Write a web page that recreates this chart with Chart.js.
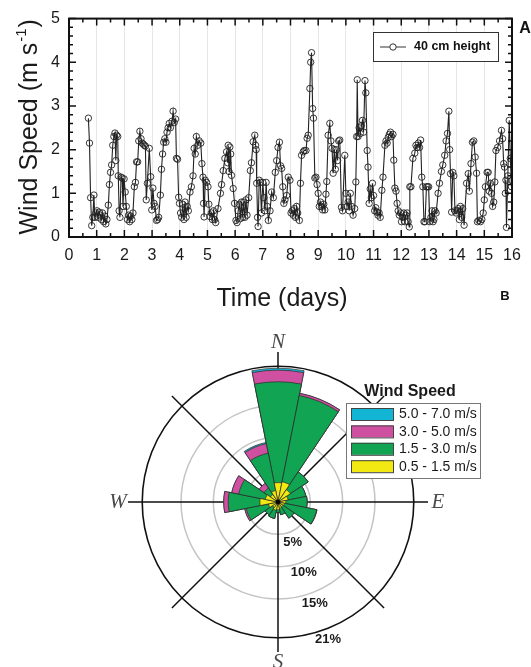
<!DOCTYPE html>
<html>
<head>
<meta charset="utf-8">
<script src="https://cdn.jsdelivr.net/npm/chart.js@4.4.1/dist/chart.umd.min.js"></script>
<style>
  html, body { margin: 0; padding: 0; background: #fff; }
  #wrap { position: relative; width: 531px; height: 667px; overflow: hidden; }
  canvas { position: absolute; left: 0; }
</style>
</head>
<body>
<div id="wrap">
  <canvas id="speedChart" width="531" height="320" style="top:0"></canvas>
  <canvas id="roseChart" width="531" height="347" style="top:320px"></canvas>
</div>
<script>
// ---- panel A: wind speed at 40 cm ----
const timeDays = [
  0.70,0.74,0.78,0.82,0.86,0.90,0.93,0.97,1.01,1.05,1.09,1.13,1.17,1.21,1.25,1.29,1.33,1.37,1.42,1.46,
  1.50,1.54,1.58,1.62,1.66,1.69,1.72,1.76,1.78,1.81,1.84,1.88,1.92,1.95,1.99,2.03,2.07,2.11,2.15,2.19,
  2.23,2.27,2.31,2.36,2.40,2.44,2.48,2.52,2.56,2.60,2.64,2.68,2.72,2.76,2.79,2.83,2.90,2.95,2.99,3.03,
  3.07,3.11,3.16,3.20,3.24,3.30,3.34,3.38,3.42,3.46,3.50,3.54,3.58,3.62,3.66,3.72,3.76,3.80,3.85,3.88,
  3.92,3.96,3.99,4.03,4.07,4.11,4.15,4.19,4.23,4.27,4.31,4.37,4.42,4.48,4.52,4.56,4.60,4.65,4.70,4.76,
  4.80,4.84,4.86,4.88,4.92,4.97,5.02,5.05,5.09,5.14,5.18,5.22,5.26,5.30,5.38,5.47,5.51,5.57,5.63,5.69,
  5.73,5.75,5.78,5.81,5.84,5.87,5.93,5.98,6.03,6.07,6.11,6.15,6.19,6.23,6.27,6.31,6.35,6.39,6.43,6.49,
  6.55,6.59,6.65,6.71,6.74,6.76,6.78,6.81,6.83,6.87,6.91,6.95,7.00,7.04,7.08,7.12,7.16,7.20,7.26,7.32,
  7.38,7.45,7.50,7.55,7.60,7.64,7.68,7.72,7.76,7.80,7.86,7.92,7.98,8.02,8.06,8.10,8.14,8.18,8.22,8.26,
  8.32,8.36,8.40,8.46,8.50,8.56,8.60,8.64,8.70,8.73,8.76,8.80,8.83,8.88,8.92,8.96,9.00,9.04,9.08,9.12,
  9.16,9.20,9.24,9.28,9.31,9.36,9.42,9.46,9.50,9.54,9.58,9.62,9.66,9.70,9.74,9.78,9.84,9.88,9.96,10.00,
  10.04,10.08,10.12,10.16,10.20,10.26,10.32,10.36,10.39,10.41,10.44,10.48,10.52,10.56,10.60,10.64,10.69,10.72,10.77,10.80,
  10.84,10.88,10.92,10.96,11.00,11.04,11.08,11.12,11.16,11.20,11.24,11.30,11.34,11.41,11.45,11.49,11.53,11.57,11.61,11.65,
  11.70,11.73,11.77,11.81,11.85,11.89,11.93,11.97,12.01,12.05,12.09,12.13,12.17,12.21,12.25,12.29,12.31,12.35,12.42,12.49,
  12.53,12.57,12.62,12.66,12.70,12.74,12.78,12.82,12.86,12.91,12.95,12.99,13.03,13.07,13.11,13.15,13.18,13.22,13.26,13.33,
  13.38,13.45,13.50,13.57,13.62,13.67,13.72,13.75,13.78,13.82,13.86,13.90,13.94,13.98,14.02,14.06,14.10,14.14,14.18,14.22,
  14.27,14.36,14.42,14.46,14.52,14.57,14.62,14.67,14.72,14.75,14.80,14.86,14.91,14.96,15.00,15.04,15.10,15.14,15.18,15.22,
  15.26,15.30,15.34,15.38,15.42,15.48,15.55,15.62,15.66,15.70,15.73,15.76,15.78,15.80,15.85,15.90,15.94,15.98,16.00
];
const speed40cm = [
  2.72,2.15,0.90,0.26,0.45,0.96,0.45,0.55,0.60,0.45,0.57,0.50,0.40,0.55,0.35,0.48,0.30,0.40,0.73,1.20,
  1.48,1.65,2.10,2.30,2.38,1.75,2.33,2.30,1.40,0.60,0.45,1.37,1.35,0.70,1.33,1.03,0.70,0.40,0.50,0.35,
  0.48,0.40,0.55,1.15,1.25,1.72,1.72,2.20,2.42,2.25,2.15,2.13,2.10,2.08,0.85,1.23,2.03,1.38,0.62,1.12,
  0.77,0.70,0.38,0.40,0.45,0.96,1.55,1.90,2.17,2.25,2.17,2.40,2.50,2.60,2.50,2.65,2.88,2.62,2.70,1.80,
  1.78,0.91,0.77,0.55,0.45,0.75,0.40,0.80,0.45,0.70,0.60,1.03,1.15,1.40,2.03,1.90,2.30,2.10,2.20,2.15,
  1.68,1.37,0.77,0.46,1.30,1.25,1.15,0.75,0.47,0.55,0.40,0.60,0.40,0.33,0.65,1.00,1.20,1.52,1.80,1.95,
  1.70,2.10,1.50,2.06,1.90,1.41,1.11,0.77,0.38,0.33,0.60,0.75,0.42,0.80,0.45,0.80,0.45,0.85,0.50,0.90,
  1.52,1.70,2.18,2.33,2.10,2.00,1.23,0.45,0.24,1.30,1.25,0.55,1.25,0.90,0.60,1.25,0.70,0.38,0.60,1.03,
  0.90,1.48,1.75,2.05,2.17,1.63,1.57,1.15,0.77,0.85,0.95,1.37,1.30,0.55,0.60,0.50,0.65,0.45,0.70,0.55,
  0.38,1.23,1.87,1.95,1.98,1.98,2.26,2.33,3.40,4.00,4.22,2.94,2.72,1.35,1.37,1.20,1.00,0.70,0.80,0.70,
  0.62,0.75,0.62,0.98,1.27,2.33,2.60,2.20,2.03,1.46,2.00,1.55,2.00,1.75,2.20,2.22,0.68,0.60,1.87,1.00,
  0.70,0.80,0.60,1.00,0.70,0.50,0.65,1.26,2.30,3.60,2.30,2.50,2.37,2.55,2.67,2.40,3.58,3.30,1.98,1.60,
  0.77,1.10,0.90,1.23,0.95,0.60,0.67,0.57,0.50,0.55,0.45,1.07,1.37,2.10,2.20,2.15,2.28,2.35,2.40,2.30,
  2.35,1.76,1.12,1.05,0.77,0.60,0.50,0.55,0.35,0.45,0.55,0.35,0.50,0.55,0.35,0.23,1.15,1.15,1.80,1.92,
  2.10,2.05,2.15,2.05,2.22,1.37,1.15,0.35,0.35,1.15,1.15,1.15,0.35,0.45,0.60,0.35,0.40,0.60,0.55,1.00,
  1.23,1.50,1.65,1.87,2.20,2.37,2.88,2.00,1.45,0.57,1.48,1.40,0.60,0.55,0.60,0.65,0.40,0.70,0.45,0.65,
  0.27,1.23,1.45,1.05,1.68,2.17,2.20,1.83,1.46,0.35,0.38,0.35,0.40,0.55,0.85,1.15,1.48,1.48,1.05,1.23,
  1.00,0.70,0.80,1.26,1.98,2.05,2.20,2.44,2.25,1.68,1.60,1.00,1.30,0.22,1.40,2.67,1.80,1.15,1.30
];
const xTicksDays = [0, 16];
const yTicksSpeed = [0, 5];

// ---- panel B: wind rose, percent of time per direction and speed class ----
const directions = ['N','NNE','NE','ENE','E','ESE','SE','SSE','S','SSW','SW','WSW','W','WNW','NW','NNW'];
const pct05to15 = [3.0, 3.2, 2.3, 1.6, 1.2, 1.0, 0.9, 1.0, 1.2, 1.3, 1.0, 1.5, 2.8, 2.0, 1.4, 1.8];
const pct15to30 = [15.6, 13.6, 3.3, 2.8, 3.3, 5.1, 2.1, 1.0, 0.4, 1.3, 1.4, 3.5, 4.9, 4.2, 1.2, 5.9];
const pct30to50 = [1.8, 0.35, 0, 0, 0, 0.05, 0, 0, 0, 0, 0, 0.25, 0.7, 1.1, 0.9, 1.5];
const pct50to70 = [0.3, 0, 0, 0, 0, 0, 0, 0, 0, 0, 0, 0, 0, 0, 0, 0.2];
const ringValues = [5, 10, 15, 21];
const speedClasses = ['0.5 - 1.5 m/s', '1.5 - 3.0 m/s', '3.0 - 5.0 m/s', '5.0 - 7.0 m/s'];
const classColors = ['#f2e812', '#11a452', '#cf4fa0', '#12b5d3'];

const SANS = "'Liberation Sans', Arial, Helvetica, sans-serif";

// --------------------------------------------------------------------------
const speedPoints = timeDays.map((d, i) => ({ x: d, y: speed40cm[i] }));

const panelA = {
  id: 'panelA',
  afterDraw(chart) {
    const { ctx, chartArea: a, scales: { x, y } } = chart;
    ctx.save();
    ctx.strokeStyle = '#111';
    ctx.lineWidth = 2;
    ctx.strokeRect(a.left, a.top, a.right - a.left, a.bottom - a.top);

    // inward ticks on all four sides
    ctx.lineWidth = 1.5;
    ctx.beginPath();
    for (let k = 0; k <= xTicksDays[1] * 2; k++) {
      const px = x.getPixelForValue(k / 2);
      const len = k % 2 === 0 ? 7 : 4;
      ctx.moveTo(px, a.bottom); ctx.lineTo(px, a.bottom - len);
      ctx.moveTo(px, a.top); ctx.lineTo(px, a.top + len);
    }
    for (let k = 0; k <= yTicksSpeed[1] * 5; k++) {
      const py = y.getPixelForValue(k / 5);
      const len = k % 5 === 0 ? 7 : 4;
      ctx.moveTo(a.left, py); ctx.lineTo(a.left + len, py);
      ctx.moveTo(a.right, py); ctx.lineTo(a.right - len, py);
    }
    ctx.stroke();

    // axis titles
    ctx.fillStyle = '#1a1a1a';
    ctx.font = '25px ' + SANS;
    ctx.textAlign = 'center';
    ctx.textBaseline = 'alphabetic';
    ctx.fillText('Time (days)', 282, 306);

    ctx.save();
    ctx.translate(37, (a.top + a.bottom) / 2);
    ctx.rotate(-Math.PI / 2);
    ctx.textAlign = 'left';
    const main = 'Wind Speed (m s', sup = '-1', close = ')';
    ctx.font = '25px ' + SANS;
    const w1 = ctx.measureText(main).width, w3 = ctx.measureText(close).width;
    ctx.font = '15px ' + SANS;
    const w2 = ctx.measureText(sup).width;
    let sx = -(w1 + w2 + w3) / 2;
    ctx.font = '25px ' + SANS;
    ctx.fillText(main, sx, 0);
    ctx.font = '15px ' + SANS;
    ctx.fillText(sup, sx + w1 + 1, -11);
    ctx.font = '25px ' + SANS;
    ctx.fillText(close, sx + w1 + w2 + 2, 0);
    ctx.restore();

    // legend box
    ctx.fillStyle = '#fff';
    ctx.fillRect(373, 32, 125, 29);
    ctx.strokeStyle = '#333';
    ctx.lineWidth = 1;
    ctx.strokeRect(373.5, 32.5, 125, 29);
    ctx.beginPath();
    ctx.moveTo(380, 47); ctx.lineTo(406, 47);
    ctx.stroke();
    ctx.beginPath();
    ctx.arc(393, 47, 3.2, 0, Math.PI * 2);
    ctx.fillStyle = '#fff';
    ctx.fill();
    ctx.stroke();
    ctx.fillStyle = '#111';
    ctx.font = 'bold 12.5px ' + SANS;
    ctx.textAlign = 'left';
    ctx.textBaseline = 'middle';
    ctx.fillText('40 cm height', 414, 47);

    // panel letters
    ctx.font = 'bold 16px ' + SANS;
    ctx.textAlign = 'center';
    ctx.fillText('A', 525, 29);
    ctx.font = 'bold 13px ' + SANS;
    ctx.fillText('B', 505, 296);
    ctx.restore();
  }
};

new Chart(document.getElementById('speedChart'), {
  type: 'line',
  data: {
    datasets: [{
      label: '40 cm height',
      data: speedPoints,
      borderColor: '#222',
      borderWidth: 1.1,
      tension: 0,
      pointRadius: 3.2,
      pointBorderWidth: 0.9,
      pointBorderColor: '#222',
      pointBackgroundColor: 'rgba(255,255,255,0)'
    }]
  },
  options: {
    responsive: false,
    devicePixelRatio: 1,
    animation: false,
    layout: { padding: { left: 0, right: 19, top: 17, bottom: 0 } },
    plugins: { legend: { display: false }, tooltip: { enabled: false } },
    scales: {
      x: {
        type: 'linear',
        min: xTicksDays[0], max: xTicksDays[1],
        afterFit: s => { s.height = 83; },
        ticks: { stepSize: 1, padding: 9, color: '#1a1a1a', font: { size: 16, family: SANS } },
        grid: {
          drawTicks: false,
          color: c => (c.tick.value === xTicksDays[0] || c.tick.value === xTicksDays[1]) ? 'rgba(0,0,0,0)' : '#e6e6e6'
        },
        border: { display: false }
      },
      y: {
        min: yTicksSpeed[0], max: yTicksSpeed[1],
        afterFit: s => { s.width = 69; },
        ticks: { stepSize: 1, padding: 9, color: '#1a1a1a', font: { size: 16, family: SANS } },
        grid: { display: false, drawTicks: false },
        border: { display: false }
      }
    }
  },
  plugins: [panelA]
});

// --------------------------------------------------------------------------
// stacked rose: each class drawn as cumulative radius, smallest class on top
const cumulative = [];
[pct05to15, pct15to30, pct30to50, pct50to70].forEach((arr, k) => {
  cumulative.push(arr.map((v, i) => +(v + (k ? cumulative[k - 1][i] : 0)).toFixed(2)));
});

const roseDecor = {
  id: 'roseDecor',
  beforeDatasetsDraw(chart) {
    const { ctx } = chart;
    const r = chart.scales.r;
    const len = r.getDistanceFromCenterForValue(r.max);
    ctx.save();
    ctx.strokeStyle = '#111';
    ctx.lineWidth = 1.5;
    ctx.beginPath();
    for (let k = 0; k < 8; k++) {
      const a = k * Math.PI / 4;
      ctx.moveTo(r.xCenter, r.yCenter);
      ctx.lineTo(r.xCenter + len * Math.sin(a), r.yCenter - len * Math.cos(a));
    }
    ctx.stroke();
    ctx.restore();
  },
  afterDraw(chart) {
    const { ctx } = chart;
    const r = chart.scales.r;
    const cx = r.xCenter, cy = r.yCenter;
    ctx.save();
    // calm dot
    ctx.fillStyle = '#000';
    ctx.beginPath();
    ctx.arc(cx, cy, 2.3, 0, Math.PI * 2);
    ctx.fill();

    // compass letters
    ctx.fillStyle = '#4a4a4a';
    ctx.font = "italic 21px 'Liberation Serif', 'DejaVu Serif', serif";
    ctx.textAlign = 'center';
    ctx.textBaseline = 'middle';
    [['N', 0], ['E', 90], ['S', 180], ['W', 270]].forEach(([t, deg]) => {
      const a = deg * Math.PI / 180;
      ctx.fillText(t, cx + 160 * Math.sin(a), cy - 160 * Math.cos(a));
    });

    // ring labels along 160 deg
    ctx.fillStyle = '#1a1a1a';
    ctx.font = 'bold 13px ' + SANS;
    const a = 160 * Math.PI / 180;
    ringValues.forEach(v => {
      const d = r.getDistanceFromCenterForValue(v) + 10.5;
      ctx.fillText(v + '%', cx + d * Math.sin(a), cy - d * Math.cos(a));
    });

    // legend
    ctx.font = 'bold 16px ' + SANS;
    ctx.fillText('Wind Speed', 410, 72);
    ctx.fillStyle = '#fff';
    ctx.fillRect(346, 83, 134, 75);
    ctx.strokeStyle = '#777';
    ctx.lineWidth = 1;
    ctx.strokeRect(346.5, 83.5, 134, 75);
    ctx.font = '14px ' + SANS;
    ctx.textAlign = 'left';
    const items = chart.data.datasets.slice().reverse();
    items.forEach((ds, i) => {
      const yMid = 94 + i * 17.4;
      ctx.fillStyle = ds.backgroundColor;
      ctx.fillRect(351, yMid - 6, 42, 12);
      ctx.strokeStyle = '#444';
      ctx.strokeRect(351.5, yMid - 5.5, 42, 12);
      ctx.fillStyle = '#1a1a1a';
      ctx.fillText(ds.label, 399, yMid + 0.5);
    });
    ctx.restore();
  }
};

new Chart(document.getElementById('roseChart'), {
  type: 'polarArea',
  data: {
    labels: directions,
    datasets: cumulative.map((vals, k) => ({
      label: speedClasses[k],
      data: vals,
      backgroundColor: classColors[k],
      borderColor: '#2a2a2a',
      borderWidth: 0.7
    }))
  },
  options: {
    responsive: false,
    devicePixelRatio: 1,
    animation: false,
    layout: { padding: { left: 128, right: 103, top: 32, bottom: 15 } },
    plugins: { legend: { display: false }, tooltip: { enabled: false } },
    scales: {
      r: {
        min: 0,
        max: 23.2,
        startAngle: -11.25,
        ticks: { display: false },
        afterBuildTicks: s => { s.ticks = [0].concat(ringValues).map(v => ({ value: v })); },
        grid: {
          circular: true,
          color: c => c.tick && c.tick.value === 21 ? '#111' : '#c4c4c4',
          lineWidth: c => c.tick && c.tick.value === 21 ? 1.6 : 1.5
        },
        angleLines: { display: false },
        pointLabels: { display: false }
      }
    }
  },
  plugins: [roseDecor]
});
</script>
</body>
</html>
